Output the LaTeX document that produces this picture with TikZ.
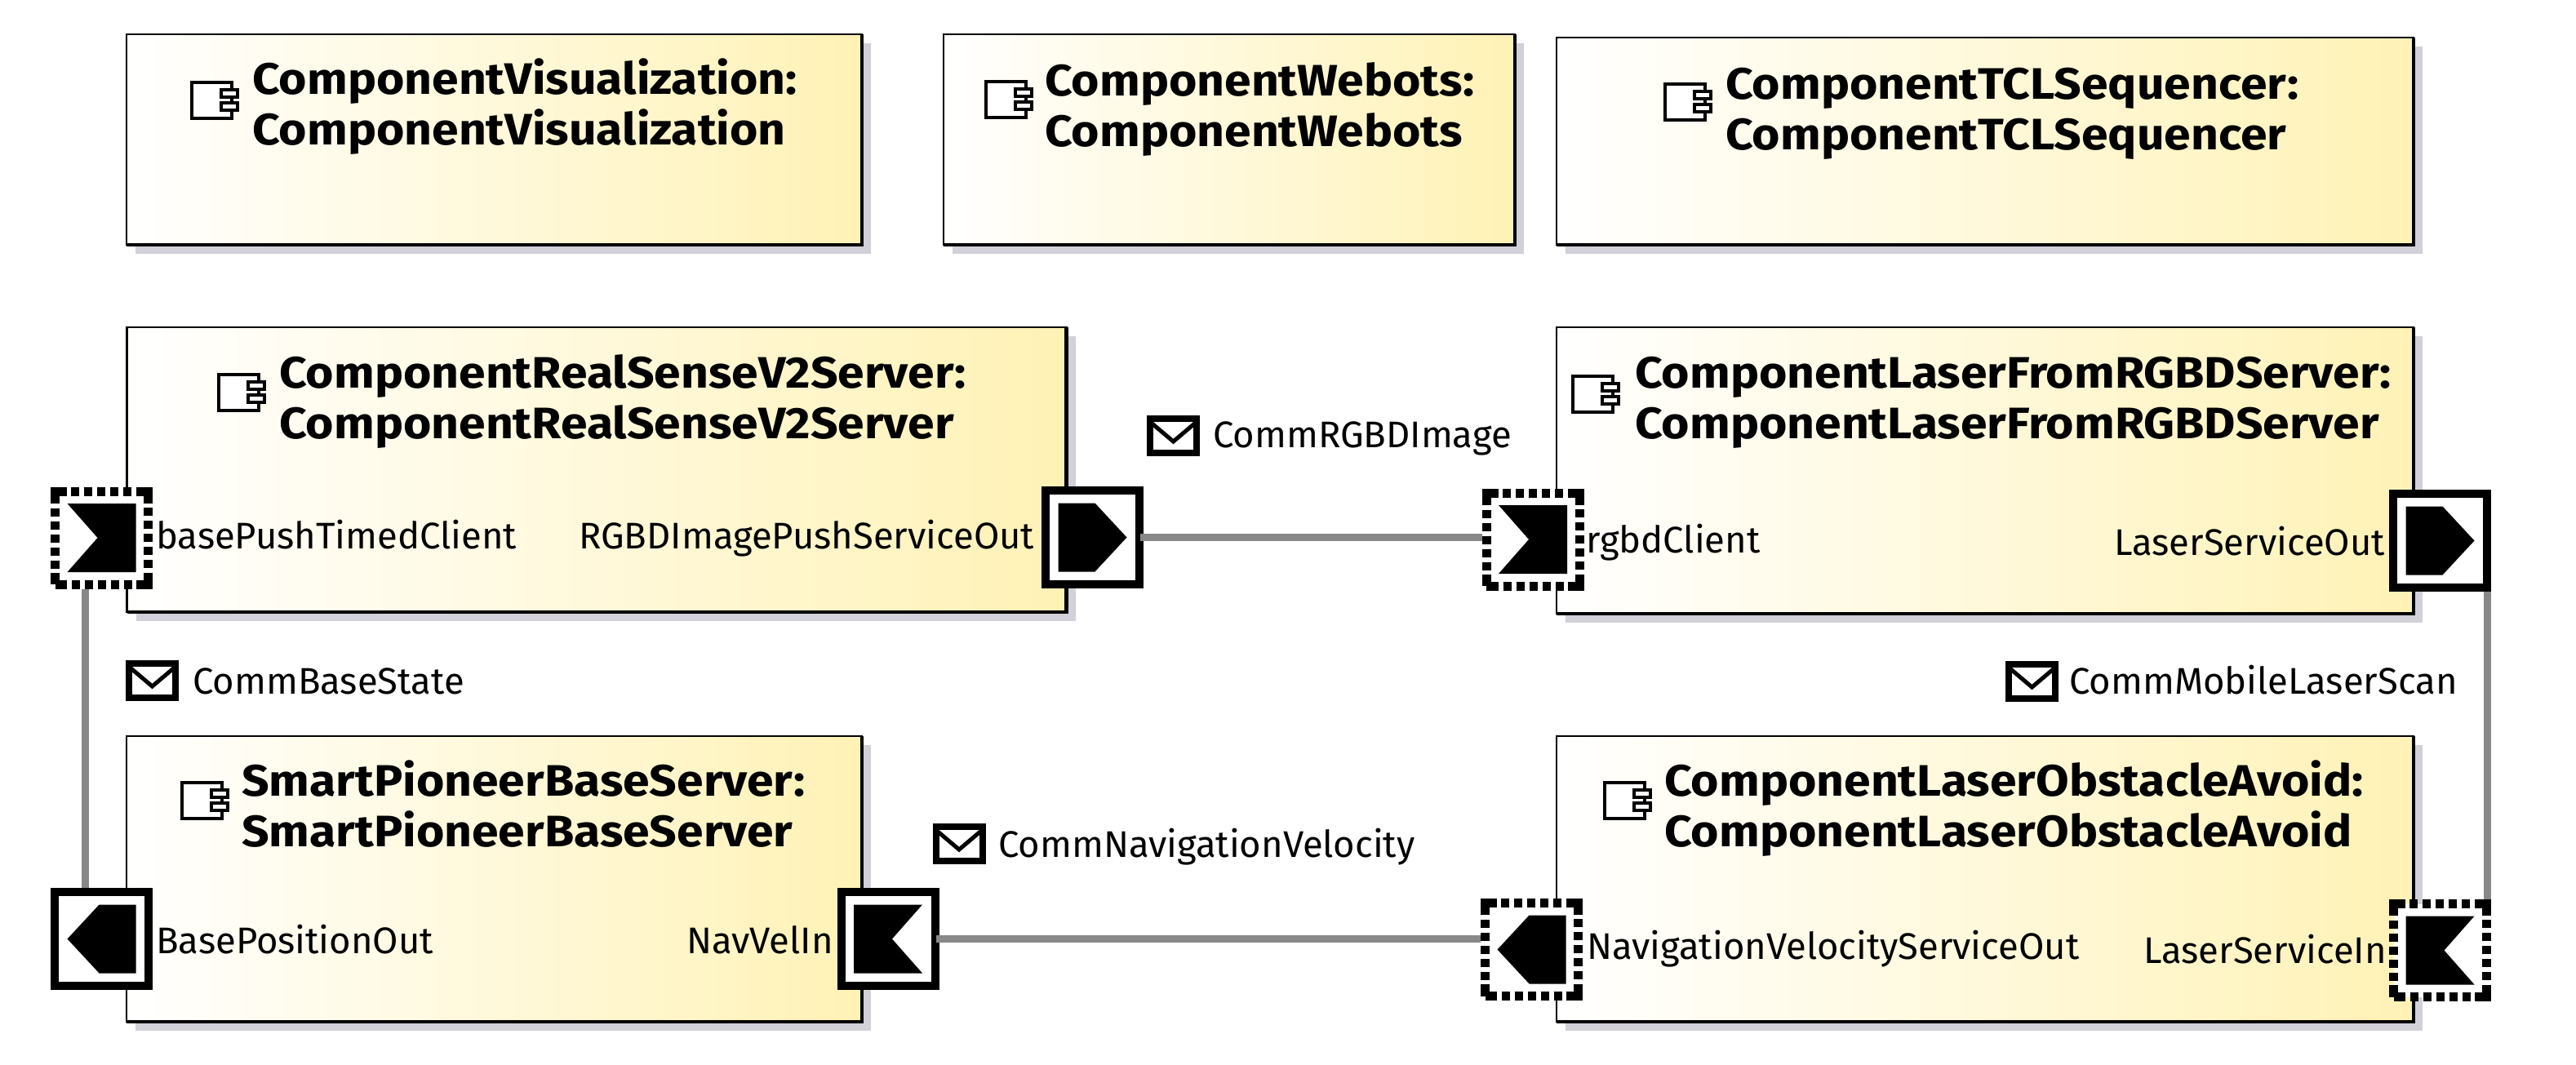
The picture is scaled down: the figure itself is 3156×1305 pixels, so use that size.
\documentclass[tikz,border=0pt]{standalone}
\usepackage{fontspec}
\setmainfont{Fira Sans}[BoldFeatures={FakeStretch=1.09}]
\usetikzlibrary{shadows}
\definecolor{compyellow}{HTML}{FFF2B6}
\definecolor{shadowgray}{HTML}{D2D0D8}
\definecolor{wiregray}{HTML}{888888}
\tikzset{
	compbox/.style={rectangle, draw=black, line width=2.5pt, outer sep=0pt, left color=white, right color=compyellow,
		drop shadow={shadow xshift=11pt, shadow yshift=-11pt, fill=shadowgray, opacity=1}},
	compedge/.style={draw=black, line width=4.5pt},
	comptitle/.style={anchor=base west, align=left, inner sep=0pt, font=\bfseries\fontsize{54}{62}\selectfont},
	portlabel/.style={anchor=base west, inner sep=0pt, font=\fontsize{45.4}{50}\selectfont},
	wire/.style={draw=wiregray, line width=8.5pt},
	portsolid/.style={rectangle, draw=black, fill=white, line width=10pt, minimum size=115pt, inner sep=0pt},
	portdotted/.style={portsolid, line width=11pt, minimum size=114pt, dash pattern=on 29pt off 6pt on 10pt off 6pt on 10pt off 6pt on 10pt off 6pt on 10pt off 6pt on 10pt off 5pt, dash phase=14.5pt},
	glyphin/.style={path picture={\fill[black, solid, shift={(path picture bounding box.center)}] (-42,-42) -- (42,-42) -- (42,42) -- (-42,42) -- (-5,0) -- cycle;}},
	glyphout/.style={path picture={\fill[black, solid, shift={(path picture bounding box.center)}] (-42,-42) -- (3,-42) -- (42,0) -- (3,42) -- (-42,42) -- cycle;}},
	glyphoutleft/.style={path picture={\fill[black, solid, shift={(path picture bounding box.center)}] (42,-42) -- (-3,-42) -- (-42,0) -- (-3,42) -- (42,42) -- cycle;}},
	glyphinleft/.style={path picture={\fill[black, solid, shift={(path picture bounding box.center)}] (42,-42) -- (-42,-42) -- (-42,42) -- (42,42) -- (5,0) -- cycle;}},
	envelope/.style={rectangle, draw=black, fill=white, line width=8pt, minimum width=57pt, minimum height=42pt, inner sep=0pt,
		path picture={\draw[black, line width=5pt, shift={(path picture bounding box.center)}] (-26,-15) -- (0,7) -- (26,-15);}},
	compicon/.pic={
		\draw[black, fill=white, line width=3.5pt] (-24,-22) rectangle (25,22);
		\draw[black, fill=white, line width=3.5pt] (12,-13) rectangle (32,-4);
		\draw[black, fill=white, line width=3.5pt] (12,3) rectangle (32,12);
	}
}
\begin{document}
\begin{tikzpicture}[x=1pt, y=-1pt]
	\useasboundingbox (0,0) rectangle (3156,1305);

	% Components
	\node [compbox, minimum width=901pt, minimum height=258pt] at (605.5,171) (visu) {};
	\node [compbox, minimum width=700pt, minimum height=258pt] at (1506,171) (webots) {};
	\node [compbox, minimum width=1050pt, minimum height=254pt] at (2432,173) (tcl) {};
	\node [compbox, minimum width=1151pt, minimum height=349pt] at (731,575.5) (realsense) {};
	\node [compbox, minimum width=1050pt, minimum height=351pt] at (2432,576.5) (laserrgbd) {};
	\node [compbox, minimum width=901pt, minimum height=350pt] at (605.5,1077) (pioneer) {};
	\node [compbox, minimum width=1050pt, minimum height=350pt] at (2432,1077) (avoid) {};
	\foreach \comp in {visu,webots,tcl,realsense,laserrgbd,pioneer,avoid}
		\draw [compedge] (\comp.south west) -- (\comp.south east) -- (\comp.north east);

	\pic at (259,123) {compicon};
	\pic at (1232,122) {compicon};
	\pic at (2064,125) {compicon};
	\pic at (292,481) {compicon};
	\pic at (1951,483) {compicon};
	\pic at (247,981) {compicon};
	\pic at (1990,981) {compicon};

	\node [comptitle] at (309,178) (visutitle) {ComponentVisualization:\\ComponentVisualization};
	\node [comptitle] at (1280,180) (webotstitle) {ComponentWebots:\\ComponentWebots};
	\node [comptitle] at (2114,184) (tcltitle) {ComponentTCLSequencer:\\ComponentTCLSequencer};
	\node [comptitle] at (342,537) (realsensetitle) {ComponentRealSenseV2Server:\\ComponentRealSenseV2Server};
	\node [comptitle] at (2003,537) (laserrgbdtitle) {ComponentLaserFromRGBDServer:\\ComponentLaserFromRGBDServer};
	\node [comptitle] at (296,1037) (pioneertitle) {SmartPioneerBaseServer:\\SmartPioneerBaseServer};
	\node [comptitle] at (2039,1037) (avoidtitle) {ComponentLaserObstacleAvoid:\\ComponentLaserObstacleAvoid};

	% Ports
	\node [portdotted, glyphin] at (124.5,659) (basepush) {};
	\node [portsolid, glyphout] at (1338.5,658.5) (rgbdout) {};
	\node [portdotted, glyphin] at (1878,661) (rgbdclient) {};
	\node [portsolid, glyphout] at (2989.5,662.5) (laserout) {};
	\node [portsolid, glyphoutleft] at (124.5,1150.5) (baseout) {};
	\node [portsolid, glyphinleft] at (1088,1150.5) (navin) {};
	\node [portdotted, glyphoutleft] at (1876.5,1163.5) (navout) {};
	\node [portdotted, glyphinleft] at (2989.5,1164.5) (laserin) {};

	\node [portlabel] at (191,672) (basepushlbl) {basePushTimedClient};
	\node [portlabel] at (709,672) (rgbdoutlbl) {RGBDImagePushServiceOut};
	\node [portlabel] at (1943,677) (rgbdclientlbl) {rgbdClient};
	\node [portlabel] at (2590,680) (laseroutlbl) {LaserServiceOut};
	\node [portlabel] at (191,1168) (baseoutlbl) {BasePositionOut};
	\node [portlabel] at (841,1168) (navinlbl) {NavVelIn};
	\node [portlabel] at (1944,1175) (navoutlbl) {NavigationVelocityServiceOut};
	\node [portlabel] at (2626,1180) (laserinlbl) {LaserServiceIn};

	% Connections
	\draw [wire] ([xshift=-4pt]rgbdout.east) -- (rgbdout.east -| rgbdclient.west);
	\draw [wire] ([xshift=-4pt]navin.east) -- (navin.east -| navout.west);
	\draw [wire] ([xshift=-20pt]basepush.south) -- ([xshift=-20pt]baseout.north);
	\draw [wire] ([xshift=58pt]laserout.south) -- ([xshift=58pt]laserin.north);

	% Messages
	\node [envelope] at (1437.5,534) (rgbdmsg) {};
	\node [envelope] at (186.5,834) (basemsg) {};
	\node [envelope] at (2489.5,835) (lasermsg) {};
	\node [envelope] at (1175,1034) (navmsg) {};
	\node [portlabel] at (1486,548) (rgbdmsglbl) {CommRGBDImage};
	\node [portlabel] at (236,850) (basemsglbl) {CommBaseState};
	\node [portlabel] at (2535,850) (lasermsglbl) {CommMobileLaserScan};
	\node [portlabel] at (1223,1050) (navmsglbl) {CommNavigationVelocity};
\end{tikzpicture}
\end{document}
